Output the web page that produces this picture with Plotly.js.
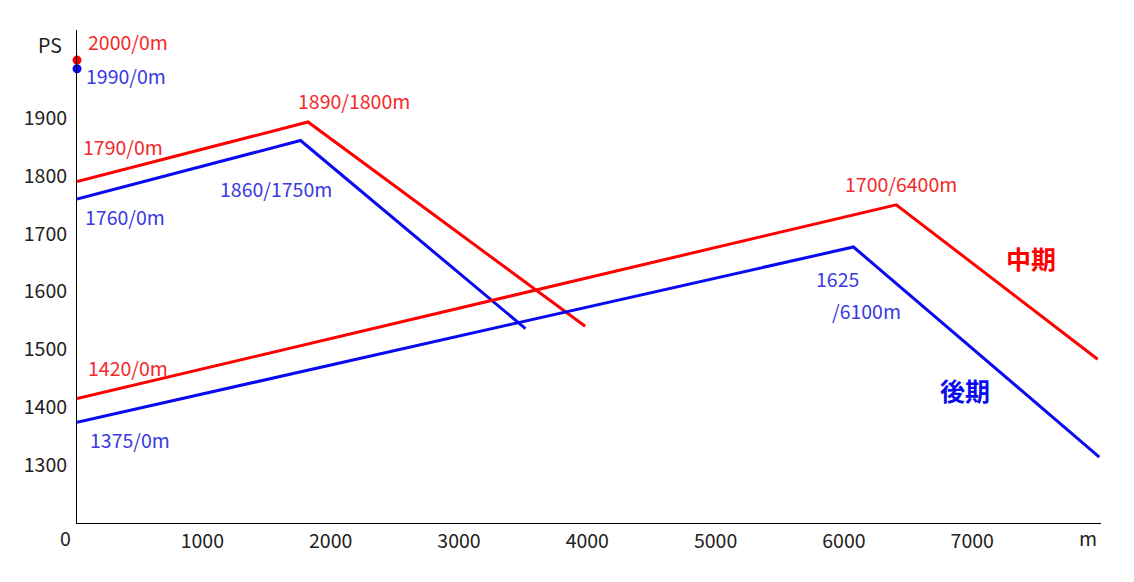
<!DOCTYPE html>
<html>
<head>
<meta charset="utf-8">
<script src="https://cdn.plot.ly/plotly-3.0.1.min.js"></script>
<style>
  html, body { margin: 0; padding: 0; background: #fff; }
  #chart { width: 1134px; height: 582px; }
</style>
</head>
<body>
<div id="chart"></div>
<script>
/* ── Power curve by gear stage (Plotly.js) ── */

const RED = '#ff0000', BLUE = '#0a0af0';
const RED_TEXT = '#f42a2a', BLUE_TEXT = '#3a3ae0';
const FONT = '"Noto Sans CJK JP", "Noto Sans", sans-serif';

// 中期 (mid stage) – red
const midUpperX = [0, 1800, 3960];
const midUpperY = [1790, 1893, 1540];
const midLowerX = [0, 6384, 7954];
const midLowerY = [1415, 1750, 1483];

// 後期 (late stage) – blue
const lateUpperX = [0, 1742, 3495];
const lateUpperY = [1760, 1861, 1536];
const lateLowerX = [0, 6051, 7967];
const lateLowerY = [1374, 1677, 1314];

// Start points
const startX = [0, 0];
const startY = [2000, 1985];
const startColors = [RED, BLUE];

const xTicks = [1000, 2000, 3000, 4000, 5000, 6000, 7000];
const yTicks = [1300, 1400, 1500, 1600, 1700, 1800, 1900];

// Labels: text, colour, pixel position (left edge, vertical centre)
const labelTexts = ['2000/0m', '1990/0m', '1790/0m', '1760/0m', '1890/1800m', '1860/1750m',
                    '1700/6400m', '1625', '/6100m', '1420/0m', '1375/0m'];
const labelColors = [RED_TEXT, BLUE_TEXT, RED_TEXT, BLUE_TEXT, RED_TEXT, BLUE_TEXT,
                     RED_TEXT, BLUE_TEXT, BLUE_TEXT, RED_TEXT, BLUE_TEXT];
const labelPos = [[86, 42], [84, 76], [81, 147], [83, 217], [296, 101], [218, 189],
                  [843, 184], [814, 279], [830, 311], [86, 368], [88, 440]];

// Plot frame in pixels
const L = 77, R = 1101.5, T = 30, B = 523.3;
const px = (x, y) => ({ x: (x - L) / (R - L), y: (B - y) / (B - T) });

function lineTrace(x, y, color) {
    return {
        x, y,
        mode: 'lines',
        line: { color, width: 3 },
        hoverinfo: 'x+y',
        showlegend: false,
        cliponaxis: false,
    };
}

const traces = [
    lineTrace(midUpperX, midUpperY, RED),
    lineTrace(lateUpperX, lateUpperY, BLUE),
    lineTrace(midLowerX, midLowerY, RED),
    lineTrace(lateLowerX, lateLowerY, BLUE),
    {
        x: startX, y: startY,
        mode: 'markers',
        marker: { size: 9, color: startColors },
        showlegend: false,
        cliponaxis: false,
    },
];

const annotations = labelTexts.map((t, i) => {
    const p = px(labelPos[i][0], labelPos[i][1]);
    return {
        x: p.x, y: p.y, xref: 'paper', yref: 'paper',
        xanchor: 'left', yanchor: 'middle',
        text: t, showarrow: false,
        font: { family: FONT, size: 19.5, color: labelColors[i] },
    };
});

// Series names
[['中期', RED, 1004, 258], ['後期', BLUE, 938, 390]].forEach(([t, c, x, y]) => {
    const p = px(x, y);
    annotations.push({
        x: p.x, y: p.y, xref: 'paper', yref: 'paper',
        xanchor: 'left', yanchor: 'middle',
        text: `<b>${t}</b>`, showarrow: false,
        font: { family: FONT, size: 25, color: c },
    });
});

// Axis units and origin
[['PS', 50, 45], ['0', 65, 538], ['m', 1088, 538]].forEach(([t, x, y]) => {
    const p = px(x, y);
    annotations.push({
        x: p.x, y: p.y, xref: 'paper', yref: 'paper',
        xanchor: 'center', yanchor: 'middle',
        text: t, showarrow: false,
        font: { family: FONT, size: 19.5, color: '#222' },
    });
});

const layout = {
    width: 1134, height: 582,
    margin: { l: L, r: 1134 - R, t: T, b: 582 - B, pad: 0 },
    paper_bgcolor: '#fff',
    plot_bgcolor: '#fff',
    font: { family: FONT, size: 19.5, color: '#222' },
    showlegend: false,
    xaxis: {
        range: [0, 7980],
        tickvals: xTicks,
        ticktext: xTicks.map(String),
        showgrid: false, zeroline: false,
        showline: true, linecolor: '#000', linewidth: 1,
        ticks: '',
        tickfont: { family: FONT, size: 19.5, color: '#222' },
        ticklabelshift: -3,
        ticklabelstandoff: 1,
        fixedrange: true,
    },
    yaxis: {
        range: [1200, 2052],
        tickvals: yTicks,
        ticktext: yTicks.map(String),
        showgrid: false, zeroline: false,
        showline: true, linecolor: '#000', linewidth: 1,
        ticks: '',
        tickfont: { family: FONT, size: 19.5, color: '#222' },
        ticklabelstandoff: 5,
        fixedrange: true,
    },
    annotations,
};

Plotly.newPlot('chart', traces, layout, { staticPlot: true });
</script>
</body>
</html>
